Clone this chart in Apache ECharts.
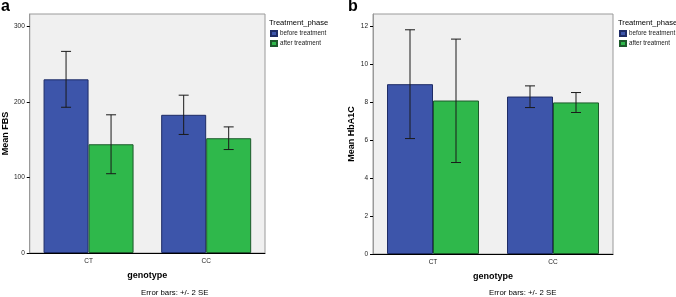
<!DOCTYPE html>
<html>
<head>
<meta charset="utf-8">
<script src="https://cdn.jsdelivr.net/npm/echarts@6/dist/echarts.min.js"></script>
<style>
  html, body { margin: 0; padding: 0; background: #fff; }
  #chart { width: 676px; height: 297px; }
</style>
</head>
<body>
<div id="chart"></div>
<script>
// 分类与图例
const genotypes = ['CT', 'CC'];
const phases = ['before treatment', 'after treatment'];

// 图 a: Mean FBS (均值 与 ±2SE 误差线)
const fbsBefore = [230, 183];
const fbsBeforeLow = [193, 157];
const fbsBeforeHigh = [267, 209];
const fbsAfter = [144, 152];
const fbsAfterLow = [105, 137];
const fbsAfterHigh = [183, 167];
const fbsTicks = [0, 100, 200, 300];

// 图 b: Mean HbA1C
const hbaBefore = [8.93, 8.28];
const hbaBeforeLow = [6.07, 7.70];
const hbaBeforeHigh = [11.79, 8.84];
const hbaAfter = [8.07, 7.97];
const hbaAfterLow = [4.81, 7.44];
const hbaAfterHigh = [11.30, 8.49];
const hbaTicks = [0, 2, 4, 6, 8, 10, 12];

const BLUE = '#3d55aa';
const GREEN = '#2fb84b';
const FONT = '"Liberation Sans", Arial, sans-serif';

const chart = echarts.init(document.getElementById('chart'));

// 误差线：竖线 + 上下短横
function errorBar(offset) {
    return function (params, api) {
        const c = api.value(0);
        const lo = api.coord([c, api.value(1)]);
        const hi = api.coord([c, api.value(2)]);
        const x = lo[0] + offset;
        const st = { stroke: '#1a1a1a', lineWidth: 1 };
        return {
            type: 'group',
            children: [
                { type: 'line', shape: { x1: x, y1: hi[1], x2: x, y2: lo[1] }, style: st },
                { type: 'line', shape: { x1: x - 5, y1: hi[1], x2: x + 5, y2: hi[1] }, style: st },
                { type: 'line', shape: { x1: x - 5, y1: lo[1], x2: x + 5, y2: lo[1] }, style: st }
            ]
        };
    };
}

const errData = (low, high) => genotypes.map((g, i) => [i, low[i], high[i]]);

function xAxisCfg(idx) {
    return {
        type: 'category',
        gridIndex: idx,
        data: genotypes,
        name: 'genotype',
        nameLocation: 'middle',
        nameGap: 18,
        nameTextStyle: { fontSize: 9, fontWeight: 'bold', color: '#000', fontFamily: FONT },
        axisLine: { lineStyle: { color: '#000', width: 1 } },
        axisTick: { alignWithLabel: true, length: 3, lineStyle: { color: '#000' } },
        axisLabel: { fontSize: 6.5, color: '#222', margin: 5, fontFamily: FONT }
    };
}

function yAxisCfg(idx, name, max, ticks) {
    return {
        type: 'value',
        gridIndex: idx,
        min: 0,
        max: max,
        name: name,
        nameLocation: 'middle',
        nameRotate: 90,
        nameGap: 17,
        nameTextStyle: { fontSize: 9, fontWeight: 'bold', color: '#000', fontFamily: FONT },
        axisLine: { show: true, lineStyle: { color: '#999' } },
        axisTick: { show: true, length: 3, customValues: ticks, lineStyle: { color: '#000' } },
        axisLabel: { fontSize: 6.5, color: '#222', margin: 5, customValues: ticks, fontFamily: FONT },
        splitLine: { show: false }
    };
}

function barSeries(name, data, xi, bw, color, border) {
    return {
        name: name,
        type: 'bar',
        xAxisIndex: xi,
        yAxisIndex: xi,
        data: data,
        barWidth: bw,
        barGap: '0%',
        itemStyle: { color: color, borderColor: border, borderWidth: 1 }
    };
}

function errSeries(data, xi, offset) {
    return {
        type: 'custom',
        xAxisIndex: xi,
        yAxisIndex: xi,
        data: data,
        z: 5,
        silent: true,
        renderItem: errorBar(offset)
    };
}

function legendCfg(left) {
    return {
        left: left,
        top: 30,
        orient: 'vertical',
        icon: 'rect',
        itemWidth: 6,
        itemHeight: 5,
        itemGap: 3,
        data: phases,
        textStyle: { fontSize: 6.3, color: '#222', fontFamily: FONT, padding: [0, 0, 0, -2] },
        padding: 0
    };
}

const textEl = (left, top, text, size, weight) => ({
    type: 'text', left: left, top: top,
    style: { text: text, fontSize: size, fontWeight: weight, fill: '#000', font: weight + ' ' + size + 'px ' + FONT }
});

const option = {
    animation: false,
    textStyle: { fontFamily: FONT },
    grid: [
        { left: 29, top: 14, width: 236, height: 239, show: true, backgroundColor: '#f0f0f0', borderColor: '#9a9a9a', borderWidth: 1 },
        { left: 373, top: 14, width: 240, height: 240, show: true, backgroundColor: '#f0f0f0', borderColor: '#9a9a9a', borderWidth: 1 }
    ],
    legend: [legendCfg(270), legendCfg(619)],
    graphic: [
        textEl(1, -1, 'a', 16, 'bold'),
        textEl(348, -1, 'b', 16, 'bold'),
        textEl(269, 19, 'Treatment_phase', 7.6, 'normal'),
        textEl(618, 19, 'Treatment_phase', 7.6, 'normal'),
        textEl(141, 289, 'Error bars: +/- 2 SE', 7.8, 'normal'),
        textEl(489, 289, 'Error bars: +/- 2 SE', 7.8, 'normal')
    ],
    xAxis: [xAxisCfg(0), xAxisCfg(1)],
    yAxis: [
        yAxisCfg(0, 'Mean FBS', 316.5, fbsTicks),
        yAxisCfg(1, 'Mean HbA1C', 12.62, hbaTicks)
    ],
    series: [
        barSeries(phases[0], fbsBefore, 0, 45, BLUE, '#1e2c66'),
        barSeries(phases[1], fbsAfter, 0, 45, GREEN, '#1d5a2b'),
        errSeries(errData(fbsBeforeLow, fbsBeforeHigh), 0, -22.5),
        errSeries(errData(fbsAfterLow, fbsAfterHigh), 0, 22.5),
        barSeries(phases[0], hbaBefore, 1, 46, BLUE, '#1e2c66'),
        barSeries(phases[1], hbaAfter, 1, 46, GREEN, '#1d5a2b'),
        errSeries(errData(hbaBeforeLow, hbaBeforeHigh), 1, -23),
        errSeries(errData(hbaAfterLow, hbaAfterHigh), 1, 23)
    ]
};

chart.setOption(option);
</script>
</body>
</html>
